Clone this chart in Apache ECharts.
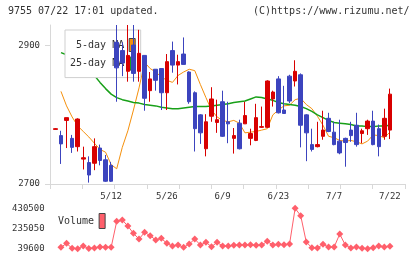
<!DOCTYPE html>
<html>
<head>
<meta charset="utf-8">
<script src="https://cdn.jsdelivr.net/npm/echarts/dist/echarts.min.js"></script>
<style>
  html, body { margin: 0; padding: 0; background: #fff; }
  #chart { width: 420px; height: 259px; }
</style>
</head>
<body>
<div id="chart"></div>
<script>
// 9755 daily chart, 4/22 - 7/22
var dates = ['4/22','4/25','4/26','4/27','4/28','5/2','5/6','5/9','5/10','5/11',
  '5/12','5/13','5/16','5/17','5/18','5/19','5/20','5/23','5/24','5/25',
  '5/26','5/27','5/30','5/31','6/1','6/2','6/3','6/6','6/7','6/8',
  '6/9','6/10','6/13','6/14','6/15','6/16','6/17','6/20','6/21','6/22',
  '6/23','6/24','6/27','6/28','6/29','6/30','7/1','7/4','7/5','7/6',
  '7/7','7/8','7/11','7/12','7/13','7/14','7/15','7/19','7/20','7/21','7/22'];

var opens = [2779, 2770, 2792, 2766, 2754, 2736, 2731, 2730, 2752, 2735,
  2727, 2905, 2893, 2863, 2901, 2863, 2886, 2835, 2866, 2867,
  2832, 2893, 2872, 2888, 2862, 2832, 2800, 2751, 2798, 2789,
  2819, 2790, 2766, 2788, 2787, 2766, 2763, 2782, 2782, 2823,
  2852, 2807, 2856, 2849, 2858, 2800, 2757, 2754, 2769, 2795,
  2775, 2762, 2766, 2778, 2785, 2773, 2780, 2791, 2780, 2769, 2778];
var closes = [2780, 2758, 2796, 2753, 2794, 2738, 2713, 2754, 2734, 2704,
  2704, 2868, 2875, 2886, 2860, 2889, 2824, 2852, 2850, 2832,
  2877, 2872, 2877, 2873, 2819, 2780, 2774, 2790, 2823, 2793,
  2769, 2787, 2770, 2751, 2799, 2773, 2796, 2783, 2849, 2833,
  2803, 2802, 2820, 2863, 2785, 2774, 2750, 2757, 2778, 2776,
  2757, 2745, 2760, 2770, 2757, 2777, 2791, 2757, 2754, 2795, 2830];
var lows = [2779, 2729, 2752, 2745, 2747, 2721, 2702, 2720, 2727, 2703,
  2703, 2819, 2856, 2848, 2848, 2848, 2806, 2819, 2835, 2807,
  2807, 2861, 2844, 2873, 2816, 2747, 2758, 2740, 2790, 2774,
  2768, 2759, 2744, 2750, 2787, 2756, 2762, 2781, 2781, 2812,
  2802, 2802, 2817, 2841, 2753, 2733, 2747, 2753, 2764, 2775,
  2756, 2743, 2725, 2761, 2754, 2759, 2771, 2756, 2740, 2764, 2765];
var highs = [2781, 2777, 2796, 2771, 2795, 2754, 2740, 2766, 2757, 2742,
  2732, 2930, 2905, 2930, 2930, 2923, 2886, 2862, 2866, 2867,
  2888, 2906, 2887, 2912, 2863, 2834, 2801, 2801, 2840, 2822,
  2835, 2819, 2781, 2793, 2819, 2780, 2816, 2812, 2850, 2835,
  2856, 2842, 2858, 2879, 2860, 2801, 2780, 2790, 2806, 2803,
  2790, 2793, 2767, 2790, 2803, 2780, 2793, 2806, 2786, 2809, 2838];

var ma5 = ['-', 2834, 2813, 2797, 2784, 2776, 2768, 2759, 2750, 2746,
  2728, 2722, 2753, 2777, 2807, 2839, 2876, 2867, 2862, 2855,
  2850, 2847, 2857, 2862, 2866, 2864, 2844, 2825, 2807, 2797,
  2792, 2790, 2792, 2788, 2774, 2775, 2776, 2778, 2780, 2800,
  2807, 2813, 2814, 2822, 2824, 2815, 2809, 2798, 2785, 2769,
  2767, 2763, 2762, 2763, 2761, 2758, 2762, 2771, 2770, 2767, 2775];
var ma25 = ['-', 2890, 2887, 2882, 2876, 2870, 2864, 2857, 2847, 2838,
  2830, 2825, 2822, 2820, 2818, 2817, 2815, 2814, 2813, 2811,
  2810, 2809, 2809, 2810, 2811, 2812, 2812, 2812, 2813, 2814,
  2815, 2816, 2818, 2819, 2820, 2823, 2826, 2825, 2823, 2821,
  2818, 2816, 2815, 2814, 2812, 2809, 2805, 2800, 2796, 2792,
  2789, 2788, 2787, 2786, 2784, 2784, 2783, 2783, 2784, 2784, 2785];
var volumes = ['-', 52500, 91200, 42800, 39600, 65400, 42000, 46000, 55700, 52500,
  52500, 304000, 317000, 259000, 188000, 133000, 197600, 165400, 123500, 139600,
  91200, 65400, 75100, 52500, 84700, 133000, 75100, 100900, 58950, 100900,
  65400, 65400, 71850, 75100, 75100, 78300, 71850, 75100, 110500, 75100,
  81500, 78300, 84700, 430500, 358900, 104100, 49300, 46000, 81500, 55700,
  55700, 181500, 75100, 46000, 55700, 42800, 39600, 49300, 65400, 55700, 62200];

var dateLabels = ['5/12', '5/26', '6/9', '6/23', '7/7', '7/22'];
var priceTicks = [2700, 2900];
var volumeTicks = [39600, 235050, 430500];

var mono = '"DejaVu Sans Mono", monospace';
var upColor = '#d80000';
var downColor = '#3c44be';
var axisGray = '#d8d8d8';

var candles = dates.map(function (d, i) {
  return [opens[i], closes[i], lows[i], highs[i]];
});

function plain(v) { return String(v); }

var chart = echarts.init(document.getElementById('chart'));
var option = {
  animation: false,
  backgroundColor: '#fff',
  graphic: [
    { type: 'text', left: 8, top: 6,
      style: { text: '9755 07/22 17:01 updated.', fontSize: 10, fontFamily: mono, fill: '#333' } },
    { type: 'text', left: 253, top: 6,
      style: { text: '(C)https://www.rizumu.net/', fontSize: 10, fontFamily: mono, fill: '#333' } }
  ],
  legend: [
    {
      data: ['5-day MA', '25-day MA'],
      orient: 'vertical', align: 'right',
      left: 65, top: 30, z: 2,
      icon: 'rect', itemWidth: 6, itemHeight: 13, itemGap: 4.6,
      padding: [8, 5, 7, 5],
      backgroundColor: '#fff', borderColor: '#cfcfcf', borderWidth: 1,
      itemStyle: { borderColor: '#444', borderWidth: 1 },
      textStyle: { fontFamily: mono, fontSize: 10, color: '#333' }
    },
    {
      data: ['Volume'],
      orient: 'horizontal', align: 'right',
      left: 58, top: 213,
      icon: 'rect', itemWidth: 6, itemHeight: 15,
      padding: 0,
      itemStyle: { borderColor: '#444', borderWidth: 1 },
      textStyle: { fontFamily: mono, fontSize: 10, color: '#333' }
    }
  ],
  grid: [
    { left: 52.6, width: 340.1, top: 25, height: 159 },  // candles
    { left: 50, width: 355, top: 25, height: 159 },      // axis frame
    { left: 52.6, width: 340.1, top: 208.3, height: 40.4 } // volume
  ],
  xAxis: [
    {
      type: 'category', gridIndex: 0, data: dates, boundaryGap: true,
      axisLine: { show: false }, axisTick: { show: false }, splitLine: { show: false },
      axisLabel: {
        interval: function (i, v) { return dateLabels.indexOf(v) >= 0; },
        margin: 8, fontSize: 9, fontFamily: mono, color: '#333'
      }
    },
    {
      type: 'value', gridIndex: 1, min: 0, max: 11, interval: 1,
      axisLine: { lineStyle: { color: axisGray } },
      axisTick: { length: 5, lineStyle: { color: axisGray } },
      axisLabel: { show: false }, splitLine: { show: false }
    },
    { type: 'category', gridIndex: 2, data: dates, boundaryGap: true, show: false }
  ],
  yAxis: [
    { type: 'value', gridIndex: 0, min: 2700, max: 2930, show: false },
    {
      type: 'value', gridIndex: 1, min: 2700, max: 2930,
      axisLine: { show: true, lineStyle: { color: axisGray } },
      axisTick: { show: true, length: 5, customValues: priceTicks, lineStyle: { color: axisGray } },
      axisLabel: { customValues: priceTicks, formatter: plain, margin: 10, fontSize: 9, fontFamily: mono, color: '#333' },
      splitLine: { show: false }
    },
    {
      type: 'value', gridIndex: 2, min: 39600, max: 430500,
      axisLine: { show: false }, axisTick: { show: false }, splitLine: { show: false },
      axisLabel: { customValues: volumeTicks, formatter: plain, margin: 8, fontSize: 9, fontFamily: mono, color: '#333' }
    }
  ],
  series: [
    {
      name: '5-day MA', type: 'line', xAxisIndex: 0, yAxisIndex: 0, z: 1,
      data: ma5, symbol: 'none',
      lineStyle: { color: '#f5900c', width: 1 }, itemStyle: { color: '#f5900c' }
    },
    {
      name: '25-day MA', type: 'line', xAxisIndex: 0, yAxisIndex: 0, z: 1,
      data: ma25, symbol: 'none',
      lineStyle: { color: '#18a018', width: 1.5 }, itemStyle: { color: '#18a018' }
    },
    {
      name: 'price', type: 'candlestick', xAxisIndex: 0, yAxisIndex: 0, z: 3,
      data: candles, barWidth: 4,
      itemStyle: {
        color: upColor, color0: downColor,
        borderColor: upColor, borderColor0: downColor, borderWidth: 1
      }
    },
    {
      name: 'Volume', type: 'line', xAxisIndex: 2, yAxisIndex: 2,
      data: volumes, symbol: 'diamond', symbolSize: 7, showAllSymbol: true,
      lineStyle: { color: '#ff5f6b', width: 1 }, itemStyle: { color: '#ff5f6b' }
    }
  ]
};
chart.setOption(option);
</script>
</body>
</html>
